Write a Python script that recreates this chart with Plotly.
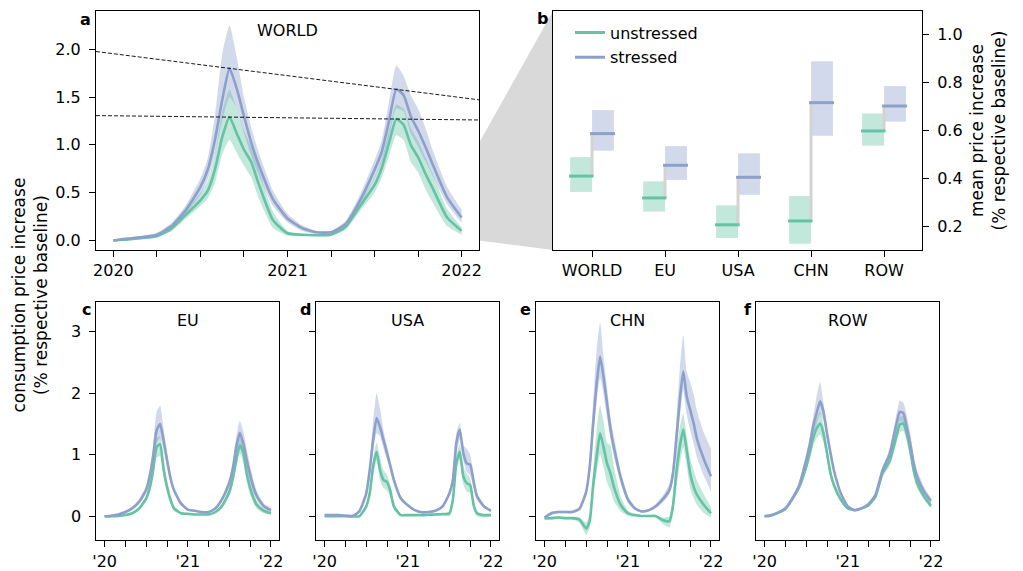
import plotly.graph_objects as go

# ---------------- data ----------------
years = [2020.0, 2020.083, 2020.167, 2020.25, 2020.333, 2020.417, 2020.5, 2020.542, 2020.583,
         2020.625, 2020.667, 2020.708, 2020.75, 2020.792, 2020.833, 2020.917, 2021.0, 2021.083,
         2021.167, 2021.25, 2021.333, 2021.417, 2021.5, 2021.542, 2021.583, 2021.625, 2021.667,
         2021.708, 2021.75, 2021.792, 2021.833, 2021.917, 2022.0]

world_s = [0.0, 0.02, 0.035, 0.06, 0.15, 0.32, 0.56, 0.74, 1.05, 1.47, 1.80, 1.59, 1.30, 1.02, 0.80, 0.43, 0.23,
           0.13, 0.085, 0.085, 0.17, 0.42, 0.74, 0.93, 1.25, 1.58, 1.52, 1.30, 1.15, 0.98, 0.80, 0.45, 0.24]
world_s_hi = [0.01, 0.03, 0.05, 0.08, 0.18, 0.37, 0.65, 0.86, 1.30, 1.95, 2.25, 1.92, 1.50, 1.18, 0.93, 0.52, 0.28,
              0.16, 0.10, 0.10, 0.20, 0.48, 0.84, 1.05, 1.45, 1.83, 1.72, 1.52, 1.38, 1.18, 0.95, 0.56, 0.32]
world_s_lo = [-0.01, 0.01, 0.02, 0.04, 0.12, 0.28, 0.48, 0.64, 0.90, 1.25, 1.50, 1.38, 1.12, 0.88, 0.69, 0.36, 0.19,
              0.10, 0.07, 0.07, 0.14, 0.37, 0.65, 0.82, 1.08, 1.38, 1.35, 1.12, 0.98, 0.83, 0.68, 0.38, 0.18]
world_u = [0.0, 0.01, 0.025, 0.045, 0.12, 0.27, 0.42, 0.52, 0.74, 1.08, 1.29, 1.12, 0.95, 0.82, 0.60, 0.21, 0.075,
           0.06, 0.055, 0.06, 0.14, 0.36, 0.58, 0.76, 1.02, 1.27, 1.21, 1.00, 0.87, 0.70, 0.55, 0.24, 0.10]
world_u_hi = [0.01, 0.02, 0.035, 0.06, 0.15, 0.31, 0.50, 0.62, 0.90, 1.35, 1.58, 1.38, 1.15, 0.98, 0.76, 0.30, 0.10,
              0.07, 0.065, 0.075, 0.17, 0.40, 0.66, 0.85, 1.15, 1.42, 1.38, 1.18, 1.04, 0.87, 0.70, 0.33, 0.14]
world_u_lo = [-0.01, 0.0, 0.015, 0.035, 0.10, 0.23, 0.36, 0.44, 0.60, 0.90, 1.05, 0.92, 0.78, 0.66, 0.45, 0.13, 0.05,
              0.045, 0.045, 0.05, 0.11, 0.31, 0.50, 0.66, 0.88, 1.10, 1.05, 0.82, 0.71, 0.54, 0.40, 0.15, 0.06]

eu_s = [0.0, 0.01, 0.03, 0.07, 0.13, 0.24, 0.43, 0.65, 0.97, 1.40, 1.50, 1.24, 0.92, 0.62, 0.43, 0.21, 0.11,
        0.09, 0.07, 0.07, 0.13, 0.29, 0.55, 0.78, 1.13, 1.36, 1.19, 0.92, 0.67, 0.46, 0.32, 0.16, 0.10]
eu_s_hi = [0.01, 0.03, 0.05, 0.09, 0.16, 0.28, 0.50, 0.76, 1.15, 1.70, 1.80, 1.45, 1.05, 0.70, 0.48, 0.24, 0.13,
           0.10, 0.08, 0.08, 0.15, 0.33, 0.62, 0.90, 1.30, 1.55, 1.38, 1.10, 0.82, 0.58, 0.40, 0.21, 0.14]
eu_s_lo = [-0.01, 0.0, 0.02, 0.05, 0.10, 0.20, 0.37, 0.56, 0.84, 1.18, 1.28, 1.08, 0.80, 0.55, 0.38, 0.18, 0.09,
           0.07, 0.06, 0.06, 0.11, 0.25, 0.48, 0.68, 0.98, 1.20, 1.05, 0.80, 0.56, 0.38, 0.25, 0.12, 0.07]
eu_u = [0.0, 0.0, 0.005, 0.02, 0.05, 0.13, 0.29, 0.46, 0.75, 1.13, 1.17, 0.78, 0.48, 0.27, 0.13, 0.05, 0.04,
        0.03, 0.03, 0.03, 0.07, 0.18, 0.40, 0.62, 0.92, 1.16, 1.03, 0.70, 0.46, 0.29, 0.18, 0.09, 0.05]
eu_u_hi = [0.01, 0.01, 0.015, 0.03, 0.07, 0.16, 0.34, 0.54, 0.88, 1.28, 1.30, 0.92, 0.58, 0.34, 0.18, 0.07, 0.05,
           0.04, 0.04, 0.04, 0.09, 0.22, 0.47, 0.72, 1.05, 1.28, 1.18, 0.85, 0.58, 0.38, 0.24, 0.12, 0.07]
eu_u_lo = [-0.01, -0.01, 0.0, 0.01, 0.03, 0.10, 0.24, 0.38, 0.62, 0.95, 0.98, 0.64, 0.38, 0.20, 0.09, 0.03, 0.02,
           0.02, 0.02, 0.02, 0.05, 0.14, 0.33, 0.52, 0.80, 1.02, 0.88, 0.56, 0.35, 0.21, 0.12, 0.05, 0.03]

usa_s = [0.02, 0.02, 0.02, 0.01, 0.0, 0.08, 0.37, 0.75, 1.24, 1.60, 1.45, 1.24, 1.03, 0.81, 0.59, 0.29, 0.18,
         0.10, 0.065, 0.07, 0.09, 0.16, 0.37, 0.59, 1.19, 1.41, 1.03, 0.86, 0.84, 0.56, 0.32, 0.16, 0.09]
usa_s_hi = [0.03, 0.03, 0.03, 0.03, 0.03, 0.10, 0.42, 0.88, 1.55, 2.00, 1.75, 1.40, 1.15, 0.90, 0.66, 0.33, 0.20,
            0.12, 0.08, 0.08, 0.10, 0.18, 0.42, 0.70, 1.35, 1.52, 1.15, 1.10, 1.00, 0.68, 0.38, 0.19, 0.11]
usa_s_lo = [0.01, 0.01, 0.0, -0.01, -0.02, 0.06, 0.32, 0.64, 1.05, 1.35, 1.30, 1.10, 0.92, 0.72, 0.52, 0.26, 0.16,
            0.09, 0.06, 0.06, 0.08, 0.14, 0.33, 0.50, 1.00, 1.25, 0.92, 0.72, 0.66, 0.45, 0.26, 0.13, 0.07]
usa_u = [0.0, 0.0, 0.0, 0.0, 0.0, 0.0, 0.16, 0.37, 0.81, 1.05, 0.75, 0.59, 0.56, 0.40, 0.16, 0.02, 0.02,
         0.02, 0.02, 0.025, 0.03, 0.035, 0.05, 0.27, 0.86, 1.05, 0.65, 0.54, 0.51, 0.18, 0.05, 0.02, 0.02]
usa_u_hi = [0.01, 0.01, 0.01, 0.01, 0.01, 0.01, 0.20, 0.45, 0.95, 1.20, 0.95, 0.75, 0.68, 0.50, 0.22, 0.04, 0.03,
            0.03, 0.03, 0.04, 0.04, 0.05, 0.08, 0.35, 1.00, 1.18, 0.82, 0.70, 0.62, 0.25, 0.08, 0.03, 0.03]
usa_u_lo = [-0.01, -0.01, -0.01, -0.01, -0.01, -0.01, 0.12, 0.30, 0.66, 0.90, 0.58, 0.46, 0.42, 0.30, 0.10, 0.0, 0.01,
            0.01, 0.01, 0.01, 0.015, 0.02, 0.0, 0.15, 0.72, 0.92, 0.52, 0.40, 0.38, 0.10, 0.0, -0.02, 0.0]

chn_s = [-0.02, 0.05, 0.07, 0.07, 0.07, 0.12, 0.40, 0.80, 1.50, 2.15, 2.60, 2.27, 1.84, 1.42, 1.12, 0.62, 0.28,
         0.13, 0.08, 0.10, 0.16, 0.27, 0.43, 0.68, 1.24, 1.89, 2.36, 1.95, 1.73, 1.51, 1.25, 0.92, 0.65]
chn_s_hi = [0.0, 0.08, 0.09, 0.09, 0.09, 0.15, 0.48, 0.95, 1.85, 2.70, 3.15, 2.60, 2.10, 1.62, 1.30, 0.72, 0.33,
            0.16, 0.10, 0.12, 0.20, 0.33, 0.52, 0.85, 1.55, 2.40, 2.95, 2.35, 2.18, 1.98, 1.70, 1.35, 1.10]
chn_s_lo = [-0.05, 0.03, 0.05, 0.05, 0.05, 0.09, 0.33, 0.68, 1.25, 1.85, 2.25, 1.98, 1.60, 1.25, 0.98, 0.52, 0.22,
            0.10, 0.06, 0.08, 0.13, 0.22, 0.36, 0.56, 1.05, 1.60, 2.05, 1.65, 1.40, 1.18, 0.95, 0.65, 0.40]
chn_u = [-0.03, -0.03, -0.02, -0.03, -0.03, -0.05, -0.20, -0.08, 0.50, 0.97, 1.35, 1.13, 0.86, 0.70, 0.48, 0.18, 0.05,
         0.02, 0.005, 0.005, 0.005, -0.06, -0.08, 0.16, 0.70, 1.13, 1.41, 1.08, 0.70, 0.48, 0.35, 0.18, 0.05]
chn_u_hi = [-0.01, -0.01, 0.0, -0.01, -0.01, -0.02, -0.10, 0.05, 0.75, 1.40, 1.80, 1.55, 1.20, 1.15, 0.80, 0.32, 0.10,
            0.04, 0.02, 0.02, 0.02, -0.02, 0.0, 0.30, 1.00, 1.45, 1.68, 1.30, 0.95, 0.75, 0.58, 0.35, 0.15]
chn_u_lo = [-0.06, -0.05, -0.04, -0.05, -0.05, -0.10, -0.30, -0.18, 0.30, 0.72, 1.00, 0.80, 0.55, 0.42, 0.25, 0.08, 0.01,
            -0.01, -0.01, -0.01, -0.01, -0.12, -0.18, 0.02, 0.45, 0.85, 1.12, 0.82, 0.45, 0.30, 0.18, 0.05, -0.02]

row_s = [0.0, 0.02, 0.065, 0.13, 0.29, 0.51, 0.92, 1.16, 1.46, 1.68, 1.87, 1.70, 1.35, 1.03, 0.75, 0.37, 0.16,
         0.10, 0.13, 0.20, 0.35, 0.75, 1.00, 1.24, 1.49, 1.70, 1.68, 1.46, 1.19, 0.86, 0.65, 0.40, 0.25]
row_s_hi = [0.01, 0.03, 0.08, 0.15, 0.32, 0.56, 1.00, 1.28, 1.62, 1.95, 2.18, 1.85, 1.45, 1.10, 0.80, 0.40, 0.18,
            0.11, 0.14, 0.22, 0.38, 0.80, 1.08, 1.35, 1.65, 1.88, 1.85, 1.65, 1.35, 0.98, 0.75, 0.48, 0.30]
row_s_lo = [-0.01, 0.01, 0.05, 0.11, 0.26, 0.46, 0.84, 1.06, 1.32, 1.50, 1.66, 1.55, 1.25, 0.96, 0.70, 0.34, 0.14,
            0.09, 0.12, 0.18, 0.32, 0.68, 0.92, 1.13, 1.36, 1.55, 1.52, 1.30, 1.05, 0.76, 0.56, 0.33, 0.20]
row_u = [0.0, 0.015, 0.06, 0.12, 0.28, 0.48, 0.81, 1.03, 1.27, 1.43, 1.51, 1.35, 1.03, 0.70, 0.51, 0.27, 0.13,
         0.10, 0.13, 0.18, 0.32, 0.70, 0.89, 1.08, 1.30, 1.49, 1.51, 1.35, 1.08, 0.75, 0.54, 0.32, 0.17]
row_u_hi = [0.01, 0.025, 0.07, 0.14, 0.31, 0.53, 0.90, 1.14, 1.40, 1.60, 1.70, 1.50, 1.15, 0.78, 0.57, 0.30, 0.15,
            0.11, 0.14, 0.20, 0.35, 0.76, 0.97, 1.18, 1.42, 1.62, 1.63, 1.48, 1.20, 0.85, 0.62, 0.38, 0.21]
row_u_lo = [-0.01, 0.005, 0.05, 0.10, 0.25, 0.43, 0.72, 0.92, 1.14, 1.27, 1.33, 1.20, 0.92, 0.62, 0.45, 0.24, 0.11,
            0.09, 0.12, 0.16, 0.29, 0.64, 0.81, 0.98, 1.18, 1.36, 1.39, 1.22, 0.96, 0.66, 0.46, 0.27, 0.13]

regions = ["WORLD", "EU", "USA", "CHN", "ROW"]
mean_unstressed = [0.411, 0.320, 0.208, 0.224, 0.599]
mean_unstressed_lo = [0.345, 0.263, 0.153, 0.129, 0.538]
mean_unstressed_hi = [0.490, 0.389, 0.289, 0.328, 0.672]
mean_stressed = [0.588, 0.456, 0.406, 0.717, 0.703]
mean_stressed_lo = [0.517, 0.395, 0.333, 0.579, 0.638]
mean_stressed_hi = [0.686, 0.536, 0.506, 0.890, 0.786]

year_ticks = [2020, 2020.25, 2020.5, 2020.75, 2021, 2021.25, 2021.5, 2021.75, 2022]
year_labels_long = ["2020", "", "", "", "2021", "", "", "", "2022"]
year_labels_short = ["'20", "", "", "", "'21", "", "", "", "'22"]

# ---------------- styling ----------------
W, H = 1023, 571
FONT = "DejaVu Sans"
FS = 16
GREEN = "rgb(102,194,165)"
BLUE = "rgb(141,160,203)"
GREEN_FILL = "rgba(102,194,165,0.4)"
BLUE_FILL = "rgba(141,160,203,0.4)"
X_RANGE = [2019.9, 2022.1]
YA_RANGE = [-0.1, 2.4]
YB_RANGE = [0.103, 1.099]
YBOT_RANGE = [-0.39, 3.49]
SMOOTH = 0.5


def fx(p):
    return p / W


def fy(p):
    return 1 - p / H


dom_a = ([fx(96), fx(479)], [fy(250), fy(11)])
dom_b = ([fx(553), fx(922)], [fy(250), fy(11)])
bottom_lefts = [96.3, 316.3, 536.3, 756.3]
dom_bottom = [([fx(l), fx(l + 183)], [fy(540.3), fy(301.7)]) for l in bottom_lefts]

fig = go.Figure()


def add_series(xa, ya, u, ulo, uhi, s, slo, shi):
    for lo, hi, fc in [(ulo, uhi, GREEN_FILL), (slo, shi, BLUE_FILL)]:
        fig.add_trace(go.Scatter(x=years, y=lo, mode="lines",
                                 line=dict(width=0, color=fc, shape="spline", smoothing=SMOOTH),
                                 xaxis=xa, yaxis=ya, showlegend=False, hoverinfo="skip"))
        fig.add_trace(go.Scatter(x=years, y=hi, mode="lines",
                                 line=dict(width=0, color=fc, shape="spline", smoothing=SMOOTH),
                                 fill="tonexty", fillcolor=fc,
                                 xaxis=xa, yaxis=ya, showlegend=False, hoverinfo="skip"))
    for vals, col in [(u, GREEN), (s, BLUE)]:
        fig.add_trace(go.Scatter(x=years, y=vals, mode="lines",
                                 line=dict(width=2.6, color=col, shape="spline", smoothing=SMOOTH),
                                 xaxis=xa, yaxis=ya, showlegend=False))


add_series("x", "y", world_u, world_u_lo, world_u_hi, world_s, world_s_lo, world_s_hi)
series_bottom = [
    (eu_u, eu_u_lo, eu_u_hi, eu_s, eu_s_lo, eu_s_hi),
    (usa_u, usa_u_lo, usa_u_hi, usa_s, usa_s_lo, usa_s_hi),
    (chn_u, chn_u_lo, chn_u_hi, chn_s, chn_s_lo, chn_s_hi),
    (row_u, row_u_lo, row_u_hi, row_s, row_s_lo, row_s_hi),
]
for k, ser in enumerate(series_bottom):
    add_series("x%d" % (k + 3), "y%d" % (k + 3), *ser)


# dashed lines through the two peaks of the WORLD series
def peak_line(vals):
    first = [i for i, t in enumerate(years) if t < 2021]
    second = [i for i, t in enumerate(years) if t >= 2021]
    i1 = max(first, key=lambda i: vals[i])
    i2 = max(second, key=lambda i: vals[i])
    slope = (vals[i2] - vals[i1]) / (years[i2] - years[i1])
    return [vals[i1] + slope * (x - years[i1]) for x in X_RANGE]


for vals in (world_s, world_u):
    fig.add_trace(go.Scatter(x=X_RANGE, y=peak_line(vals), mode="lines",
                             line=dict(color="black", width=0.9, dash="4px,2px"),
                             xaxis="x", yaxis="y", showlegend=False, hoverinfo="skip"))

# panel b
idx = list(range(len(regions)))
BOX_W = 0.3
fig.add_trace(go.Bar(x=[i - BOX_W / 2 for i in idx],
                     y=[h - l for h, l in zip(mean_unstressed_hi, mean_unstressed_lo)],
                     base=mean_unstressed_lo, width=BOX_W,
                     marker=dict(color=GREEN_FILL, line=dict(width=0)),
                     xaxis="x2", yaxis="y2", showlegend=False))
fig.add_trace(go.Bar(x=[i + BOX_W / 2 for i in idx],
                     y=[h - l for h, l in zip(mean_stressed_hi, mean_stressed_lo)],
                     base=mean_stressed_lo, width=BOX_W,
                     marker=dict(color=BLUE_FILL, line=dict(width=0)),
                     xaxis="x2", yaxis="y2", showlegend=False))
cx, cy = [], []
for i in idx:
    cx += [i, i, None]
    cy += [mean_unstressed[i], mean_stressed[i], None]
fig.add_trace(go.Scatter(x=cx, y=cy, mode="lines", line=dict(color="rgb(211,211,211)", width=3),
                         xaxis="x2", yaxis="y2", showlegend=False, hoverinfo="skip"))
ux, uy, sx, sy = [], [], [], []
for i in idx:
    ux += [i - BOX_W - 0.015, i + 0.02, None]
    uy += [mean_unstressed[i], mean_unstressed[i], None]
    sx += [i - 0.027, i + BOX_W + 0.015, None]
    sy += [mean_stressed[i], mean_stressed[i], None]
fig.add_trace(go.Scatter(x=ux, y=uy, mode="lines", line=dict(color=GREEN, width=3),
                         name="unstressed", legendgroup="u", xaxis="x2", yaxis="y2"))
fig.add_trace(go.Scatter(x=sx, y=sy, mode="lines", line=dict(color=BLUE, width=3),
                         name="stressed", legendgroup="s", xaxis="x2", yaxis="y2"))

# ---------------- axes ----------------
tickfont = dict(family=FONT, size=FS, color="black")
common = dict(showline=True, linecolor="black", linewidth=1, mirror=True, ticks="outside",
              ticklen=6, tickwidth=1, tickcolor="black", showgrid=False, zeroline=False,
              tickfont=tickfont, automargin=False, fixedrange=True)
ystand = dict(ticklabelstandoff=5)

layout = dict(
    xaxis=dict(domain=dom_a[0], anchor="y", range=X_RANGE, tickvals=year_ticks,
               ticktext=year_labels_long, **common),
    yaxis=dict(domain=dom_a[1], anchor="x", range=YA_RANGE, tickvals=[0, 0.5, 1, 1.5, 2],
               ticktext=["0.0", "0.5", "1.0", "1.5", "2.0"], **common, **ystand),
    xaxis2=dict(domain=dom_b[0], anchor="y2", range=[-0.535, 4.52], tickvals=idx,
                ticktext=regions, **common),
    yaxis2=dict(domain=dom_b[1], anchor="x2", side="right", range=YB_RANGE,
                tickvals=[0.2, 0.4, 0.6, 0.8, 1.0],
                ticktext=["0.2", "0.4", "0.6", "0.8", "1.0"], **common, **ystand),
)
for k in range(4):
    n = k + 3
    layout["xaxis%d" % n] = dict(domain=dom_bottom[k][0], anchor="y%d" % n, range=X_RANGE,
                                 tickvals=year_ticks, ticktext=year_labels_short, **common)
    layout["yaxis%d" % n] = dict(domain=dom_bottom[k][1], anchor="x%d" % n, range=YBOT_RANGE,
                                 tickvals=[0, 1, 2, 3], ticktext=["0", "1", "2", "3"],
                                 showticklabels=(k == 0), **common, **ystand)

# ---------------- annotations ----------------
ann = []
titlefont = dict(family=FONT, size=FS, color="black")
labelfont = dict(family=FONT, size=17, color="black")
ann.append(dict(text="WORLD", x=sum(dom_a[0]) / 2, y=fy(30.5), xref="paper", yref="paper",
                showarrow=False, font=titlefont, xanchor="center", yanchor="middle"))
for k, name in enumerate(["EU", "USA", "CHN", "ROW"]):
    ann.append(dict(text=name, x=sum(dom_bottom[k][0]) / 2, y=fy(320.7), xref="paper", yref="paper",
                    showarrow=False, font=titlefont, xanchor="center", yanchor="middle"))
letters = [("a", 85, 19.5), ("b", 542.5, 18.5), ("c", 86, 309.5), ("d", 305.5, 309.5),
           ("e", 525, 309.5), ("f", 747.5, 309.5)]
for t, x, y in letters:
    ann.append(dict(text="<b>%s</b>" % t, x=fx(x), y=fy(y), xref="paper", yref="paper",
                    showarrow=False, font=titlefont, xanchor="center", yanchor="middle"))
ann.append(dict(text="consumption price increase<br>(% respective baseline)", x=fx(29.5), y=fy(295),
                xref="paper", yref="paper", showarrow=False, textangle=-90, font=labelfont,
                xanchor="center", yanchor="middle"))
ann.append(dict(text="mean price increase<br>(% respective baseline)", x=fx(987), y=fy(130.5),
                xref="paper", yref="paper", showarrow=False, textangle=-90, font=labelfont,
                xanchor="center", yanchor="middle"))

# zoom wedge between panel a and panel b
WEDGE_LOW, WEDGE_HIGH = 0.0, 1.02


def ya_paper(v):
    d0, d1 = dom_a[1]
    return d0 + (v - YA_RANGE[0]) / (YA_RANGE[1] - YA_RANGE[0]) * (d1 - d0)


xr = dom_a[0][1]
xl = dom_b[0][0]
path = "M %f,%f L %f,%f L %f,%f L %f,%f Z" % (xr, ya_paper(WEDGE_HIGH), xl, dom_b[1][1],
                                              xl, dom_b[1][0], xr, ya_paper(WEDGE_LOW))
shapes = [dict(type="path", path=path, xref="paper", yref="paper", fillcolor="#d9d9d9",
               line=dict(width=0), layer="below")]

fig.update_layout(
    width=W, height=H, margin=dict(l=0, r=0, t=0, b=0),
    paper_bgcolor="white", plot_bgcolor="white", barmode="overlay",
    font=dict(family=FONT, size=FS, color="black"),
    annotations=ann, shapes=shapes,
    legend=dict(x=fx(570), y=fy(15.5), xanchor="left", yanchor="top", bgcolor="rgba(0,0,0,0)",
                font=dict(family=FONT, size=FS, color="black"), tracegroupgap=1,
                itemwidth=30),
    **layout,
)

fig.write_html("out.html", config={"displayModeBar": False},
               post_script="document.body.style.margin='0px';")
